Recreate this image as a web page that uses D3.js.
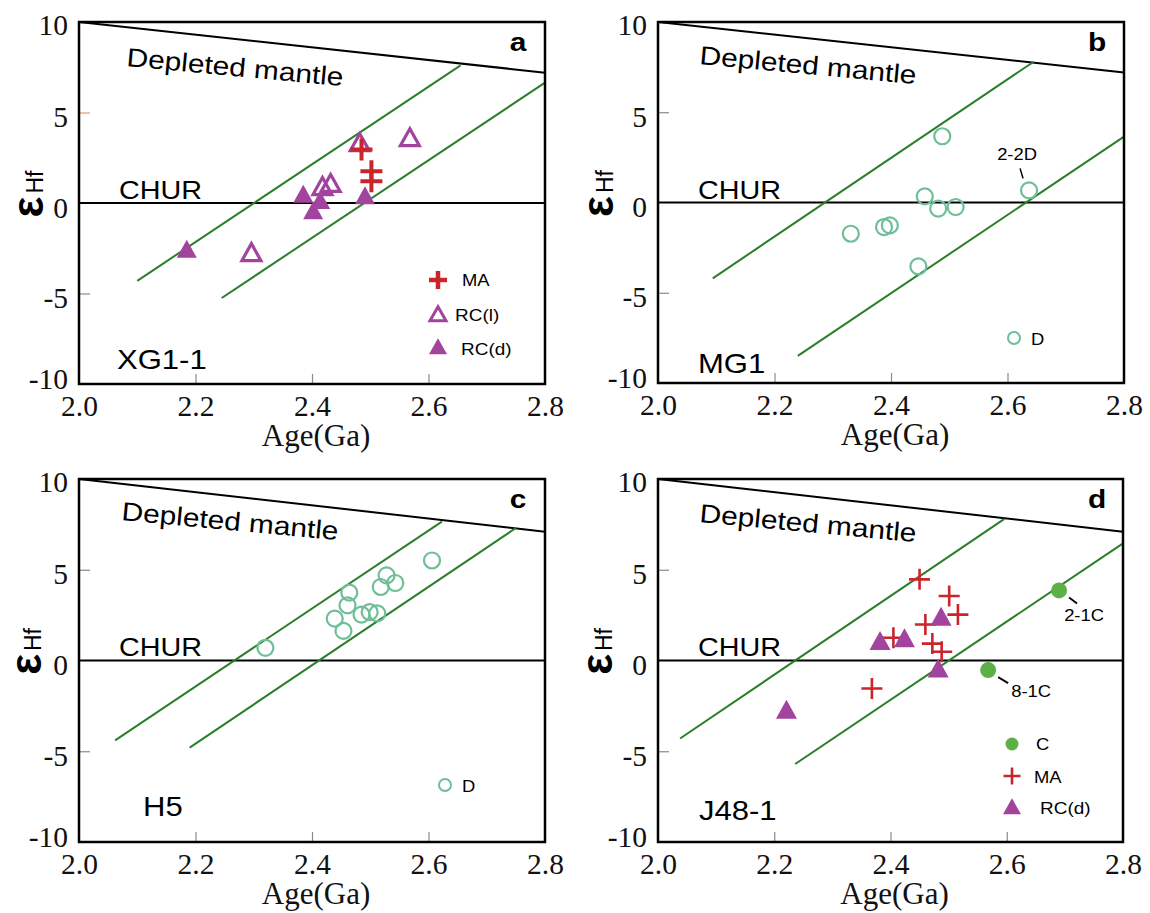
<!DOCTYPE html>
<html><head><meta charset="utf-8">
<script src="https://cdn.jsdelivr.net/npm/d3@7"></script>
<style>body{margin:0;background:#fff}svg{display:block}</style>
</head><body>
<svg id="chart" width="1150" height="913"></svg>
<script>
// ---------- DATA ----------
const xTicks = [2.0, 2.2, 2.4, 2.6, 2.8];
const xTickLabels = ["2.0", "2.2", "2.4", "2.6", "2.8"];
const yTicks = [10, 5, 0, -5, -10];
const yTickLabels = ["10", "5", "0", "-5", "-10"];
const panelLetters = ["a", "b", "c", "d"];
const sampleNames = ["XG1-1", "MG1", "H5", "J48-1"];
// depleted mantle: eHf at 2.0 Ga and 2.8 Ga
const dmStart = [10, 10, 10, 10];
const dmEnd = [7.2, 7.2, 7.1, 7.1];
// crustal growth (green) lines, [[age, eHf],[age, eHf]]
const growthA = [[[2.10, -4.3], [2.655, 7.6]], [[2.245, -5.25], [2.80, 6.65]]];
const growthB = [[[2.094, -4.2], [2.645, 7.8]], [[2.24, -8.5], [2.80, 3.65]]];
const growthC = [[[2.062, -4.4], [2.623, 7.65]], [[2.19, -4.8], [2.75, 7.3]]];
const growthD = [[[2.038, -4.3], [2.596, 7.8]], [[2.236, -5.7], [2.80, 6.45]]];
// panel a (XG1-1)
const aMA = [[2.485, 2.95], [2.502, 1.75], [2.502, 1.2]];
const aRCl = [[2.296, -2.87], [2.418, 0.78], [2.432, 0.95], [2.482, 3.2], [2.568, 3.48]];
const aRCd = [[2.185, -2.69], [2.385, 0.35], [2.402, -0.57], [2.414, 0.0], [2.491, 0.26]];
// panel b (MG1)
const bD = [[2.331, -1.73], [2.388, -1.36], [2.398, -1.27], [2.447, -3.54], [2.458, 0.34],
            [2.481, -0.34], [2.488, 3.67], [2.511, -0.25], [2.637, 0.67]];
const bLabelled = [[2.637, 0.67]];
const bLabels = ["2-2D"];
// panel c (H5)
const cD = [[2.320, 0.70], [2.439, 2.31], [2.454, 1.63], [2.461, 3.04], [2.464, 3.74], [2.485, 2.53],
            [2.499, 2.67], [2.512, 2.6], [2.518, 4.05], [2.528, 4.69], [2.543, 4.27], [2.606, 5.51]];
// panel d (J48-1)
const dC = [[2.69, 3.86], [2.568, -0.53]];
const dCLabels = ["2-1C", "8-1C"];
const dMA = [[2.368, -1.54], [2.405, 1.25], [2.450, 4.47], [2.460, 1.98], [2.472, 0.93],
             [2.488, 0.48], [2.501, 3.55], [2.516, 2.53]];
const dRCd = [[2.221, -2.86], [2.382, 0.93], [2.424, 1.08], [2.482, -0.59], [2.487, 2.27]];

// ---------- LAYOUT / STYLE ----------
const SANS = "'Liberation Sans', Arial, sans-serif";
const SERIF = "'Liberation Serif', 'Times New Roman', serif";
const SX = 1.15;
const PURPLE = "#A2449D", RED = "#C9252B", TEAL = "#6EBE97", GLINE = "#2A7E2A", CGREEN = "#5CB146";
const layout = [
  {left: 79, top: 22, w: 466, h: 362, yLab: 36, dmx: 47, dmy: 44, nameX: 38, nameY: 347, tick5: "#E39A6E"},
  {left: 658, top: 22, w: 466, h: 361, yLab: 45, dmx: 41, dmy: 42, nameX: 40, nameY: 351, tick5: "#8a8a8a"},
  {left: 79, top: 479, w: 466, h: 363, yLab: 38, dmx: 42, dmy: 41, nameX: 64, nameY: 337, tick5: "#8a8a8a"},
  {left: 658, top: 479, w: 465, h: 363, yLab: 46, dmx: 41, dmy: 43, nameX: 41, nameY: 341, tick5: "#8a8a8a"}
];
const growth = [growthA, growthB, growthC, growthD];

const svg = d3.select("#chart");

function txt(g, x, y, s, o) {
  return g.append("text")
    .attr("transform", `translate(${x},${y}) rotate(${o.rot || 0}) scale(${o.sx || 1},1)`)
    .attr("font-family", o.family || SANS)
    .attr("font-size", o.size)
    .attr("font-weight", o.weight || "normal")
    .attr("text-anchor", o.anchor || "start")
    .attr("dominant-baseline", o.base || "auto")
    .attr("fill", o.fill || "#000")
    .text(s);
}
function triPath(w, h) {
  return `M0,${-h * 2 / 3}L${w / 2},${h / 3}L${-w / 2},${h / 3}Z`;
}
function crossPath(w) {
  return `M${-w / 2},0H${w / 2}M0,${-w / 2}V${w / 2}`;
}

layout.forEach((L, i) => {
  const g = svg.append("g");
  const x = d3.scaleLinear().domain([2.0, 2.8]).range([L.left, L.left + L.w]);
  const y = d3.scaleLinear().domain([-10, 10]).range([L.top + L.h, L.top]);
  const line = d3.line().x(d => x(d[0])).y(d => y(d[1]));

  // axes
  const xa = g.append("g").attr("transform", `translate(0,${L.top + L.h})`)
    .call(d3.axisBottom(x).tickValues(xTicks).tickFormat((d, k) => xTickLabels[k]).tickSize(-10).tickPadding(11));
  xa.select(".domain").remove();
  xa.selectAll(".tick line").attr("stroke", "#8a8a8a").attr("stroke-width", 1.2)
    .attr("display", d => (d === 2.0 || d === 2.8) ? "none" : null);
  xa.selectAll(".tick text").attr("font-family", SERIF).attr("font-size", 29.5).attr("fill", "#111");

  const ya = g.append("g").attr("transform", `translate(${L.left},0)`)
    .call(d3.axisLeft(y).tickValues(yTicks).tickFormat((d, k) => yTickLabels[k]).tickSize(-11).tickPadding(11));
  ya.select(".domain").remove();
  ya.selectAll(".tick line").attr("stroke", d => d === 5 ? L.tick5 : "#8a8a8a").attr("stroke-width", 1.2)
    .attr("display", d => (d === 5 || d === -5) ? null : "none");
  ya.selectAll(".tick text").attr("font-family", SERIF).attr("font-size", 29.5).attr("fill", "#111")
    .attr("dy", d => (d === 10 ? 12 : d === -10 ? 4 : 14) + "px");

  // x axis title
  txt(g, L.left + L.w / 2 + 4, L.top + L.h + 62, "Age(Ga)", {family: SERIF, size: 31, anchor: "middle", fill: "#111"});
  // y axis title (rotated)
  const yt = g.append("text").attr("transform", `translate(${L.left - L.yLab},${y(0.5)}) rotate(-90)`)
    .attr("text-anchor", "middle").attr("font-family", SANS);
  yt.append("tspan").attr("font-size", 44).attr("font-weight", "bold").text("ε");
  yt.append("tspan").attr("font-size", 23).attr("dx", 3).text("Hf");

  // CHUR & depleted mantle lines
  g.append("path").attr("d", line([[2.0, 0], [2.8, 0]])).attr("stroke", "#000").attr("stroke-width", 2).attr("fill", "none");
  g.append("path").attr("d", line([[2.0, dmStart[i]], [2.8, dmEnd[i]]])).attr("stroke", "#000").attr("stroke-width", 2).attr("fill", "none");
  // growth lines
  growth[i].forEach(seg => {
    g.append("path").attr("d", line(seg)).attr("stroke", GLINE).attr("stroke-width", 2).attr("fill", "none");
  });

  // labels
  txt(g, L.left + 40, L.top + 177, "CHUR", {size: 25, sx: SX});
  txt(g, L.left + L.dmx, L.top + L.dmy, "Depleted mantle", {size: 26, sx: SX, rot: 5.3});
  txt(g, L.left + L.nameX, L.top + L.nameY, sampleNames[i], {size: 27, sx: SX});
  txt(g, L.left + 439, L.top + 29, panelLetters[i], {size: 26, weight: "bold", anchor: "middle", sx: SX});

  if (i === 0) {
    g.selectAll(".rcd").data(aRCd).join("path")
      .attr("transform", d => `translate(${x(d[0])},${y(d[1])})`).attr("d", triPath(20, 18)).attr("fill", PURPLE);
    g.selectAll(".rcl").data(aRCl).join("path")
      .attr("transform", d => `translate(${x(d[0])},${y(d[1])})`).attr("d", triPath(19, 17))
      .attr("fill", "none").attr("stroke", PURPLE).attr("stroke-width", 3.2);
    g.selectAll(".ma").data(aMA).join("path")
      .attr("transform", d => `translate(${x(d[0])},${y(d[1])})`).attr("d", crossPath(22))
      .attr("stroke", RED).attr("stroke-width", 4).attr("fill", "none");
    // legend
    const lx = L.left + 359;
    g.append("path").attr("transform", `translate(${lx},${L.top + 258})`).attr("d", crossPath(18)).attr("stroke", RED).attr("stroke-width", 4.5);
    g.append("path").attr("transform", `translate(${lx},${L.top + 294})`).attr("d", triPath(16, 14)).attr("fill", "none").attr("stroke", PURPLE).attr("stroke-width", 3);
    g.append("path").attr("transform", `translate(${lx},${L.top + 327})`).attr("d", triPath(18, 16)).attr("fill", PURPLE);
    txt(g, L.left + 383, L.top + 258, "MA", {size: 16, sx: SX, base: "central"});
    txt(g, L.left + 376, L.top + 293, "RC(l)", {size: 16.5, sx: SX, base: "central"});
    txt(g, L.left + 382, L.top + 327, "RC(d)", {size: 16.5, sx: SX, base: "central"});
  }
  if (i === 1 || i === 2) {
    const pts = i === 1 ? bD : cD;
    g.selectAll(".dz").data(pts).join("circle")
      .attr("cx", d => x(d[0])).attr("cy", d => y(d[1])).attr("r", 8)
      .attr("fill", "none").attr("stroke", TEAL).attr("stroke-width", 2.2);
    if (i === 1) {
      bLabelled.forEach((d, k) => {
        const px = x(d[0]), py = y(d[1]);
        g.append("line").attr("x1", px - 9).attr("y1", py - 22).attr("x2", px - 6).attr("y2", py - 12)
          .attr("stroke", "#000").attr("stroke-width", 1.5);
        txt(g, px - 12, py - 36, bLabels[k], {size: 16, sx: SX, anchor: "middle", base: "central"});
      });
    }
    // legend "D"
    const lx = L.left + (i === 1 ? 356 : 366), ly = L.top + (i === 1 ? 316 : 306);
    g.append("circle").attr("cx", lx).attr("cy", ly).attr("r", 6).attr("fill", "none").attr("stroke", TEAL).attr("stroke-width", 2);
    txt(g, lx + 17, ly + 1, "D", {size: 16, sx: SX, base: "central"});
  }
  if (i === 3) {
    g.selectAll(".ma").data(dMA).join("path")
      .attr("transform", d => `translate(${x(d[0])},${y(d[1])})`).attr("d", crossPath(21))
      .attr("stroke", RED).attr("stroke-width", 2.6).attr("fill", "none");
    g.selectAll(".rcd").data(dRCd).join("path")
      .attr("transform", d => `translate(${x(d[0])},${y(d[1])})`).attr("d", triPath(21, 19)).attr("fill", PURPLE);
    g.selectAll(".cc").data(dC).join("circle")
      .attr("cx", d => x(d[0])).attr("cy", d => y(d[1])).attr("r", 8).attr("fill", CGREEN);
    // annotations
    const offs = [{l1: [10, 7], l2: [18, 13], t: [25, 25]}, {l1: [10, 7], l2: [20, 13], t: [43, 21]}];
    dC.forEach((d, k) => {
      const px = x(d[0]), py = y(d[1]), o = offs[k];
      g.append("line").attr("x1", px + o.l1[0]).attr("y1", py + o.l1[1]).attr("x2", px + o.l2[0]).attr("y2", py + o.l2[1])
        .attr("stroke", "#000").attr("stroke-width", 1.8);
      txt(g, px + o.t[0], py + o.t[1], dCLabels[k], {size: 16, sx: SX, anchor: "middle", base: "central"});
    });
    // legend
    const lx = L.left + 354;
    g.append("circle").attr("cx", lx).attr("cy", L.top + 265).attr("r", 6.5).attr("fill", CGREEN);
    g.append("path").attr("transform", `translate(${lx},${L.top + 297})`).attr("d", crossPath(17)).attr("stroke", RED).attr("stroke-width", 2.6);
    g.append("path").attr("transform", `translate(${lx},${L.top + 330})`).attr("d", triPath(18, 16)).attr("fill", PURPLE);
    txt(g, L.left + 378, L.top + 265, "C", {size: 16, sx: SX, base: "central"});
    txt(g, L.left + 376, L.top + 298, "MA", {size: 16, sx: SX, base: "central"});
    txt(g, L.left + 382, L.top + 329, "RC(d)", {size: 16.5, sx: SX, base: "central"});
  }

  // frame
  g.append("rect").attr("x", L.left).attr("y", L.top).attr("width", L.w).attr("height", L.h)
    .attr("fill", "none").attr("stroke", "#000").attr("stroke-width", 2.5);
});
</script>
</body></html>
